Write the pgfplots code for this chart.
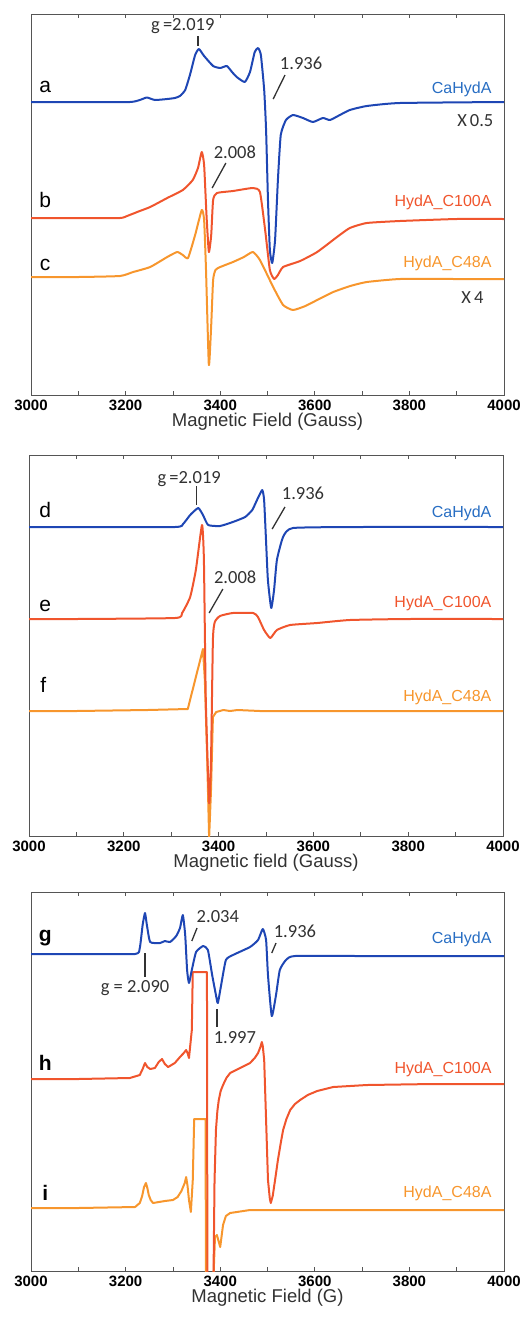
\documentclass[border=0pt]{standalone}
\usepackage{fontspec}
\setmainfont{Liberation Sans}
\newfontfamily\calib{Carlito}
\usepackage{pgfplots}
\pgfplotsset{compat=1.18}
\definecolor{cblue}{RGB}{30,70,180}
\definecolor{lblue}{RGB}{40,110,195}
\definecolor{cred}{RGB}{240,85,45}
\definecolor{cora}{RGB}{247,150,45}
\definecolor{axg}{RGB}{85,85,85}
\definecolor{anng}{RGB}{50,50,50}
\newcommand{\fs}[1]{\fontsize{#1}{#1}\selectfont}
\pgfplotsset{epr/.style={
 scale only axis, width=473pt, height=381pt,
 xmin=3000,xmax=4000,ymin=0,ymax=381,
 xtick={3000,3200,3400,3600,3800,4000},
 xticklabels={3000,3200,3400,3600,3800,4000},
 minor xtick={3100,3300,3500,3700,3900},
 ytick=\empty,
 major tick length=4pt, minor tick length=4pt,
 tick style={axg, line width=0.8pt},
 axis line style={axg, line width=1pt},
 xticklabel style={font=\bfseries\fs{15}, text=black, yshift=-1pt},
 xlabel style={font=\fs{18.5}, text=anng, yshift=4pt},
 every axis plot/.append style={line width=2pt, line join=round},
 clip=true,
},
sm/.style={smooth, tension=0.3}}
\tikzset{
lab/.style={font=\fs{21}, text=black},
blab/.style={font=\bfseries\fs{21}, text=black},
nm/.style={font=\fs{16}, anchor=east},
ann/.style={font=\calib\fs{18.5}, text=anng},
mk/.style={anng, line width=1.3pt},
}
\begin{document}
\begin{tikzpicture}
\useasboundingbox (0,0) rectangle (521pt,-1318pt);
% ---------------- Panel 1
\begin{axis}[epr, at={(31pt,-14pt)}, anchor=north west, xlabel={Magnetic Field (Gauss)}]
\addplot[cora, sm] coordinates {(3000,118)(3100,118)(3188,119)(3216,123)(3252,128)(3288,138)(3309,143)(3321,140)(3332,137)(3347,160)(3361,185)(3366,175)(3370,125)(3376,30)(3381,70)(3385,115)(3390,125)(3400,128)(3427,133)(3450,138)(3469,143)(3484,135)(3512,108)(3533,90)(3554,85)(3580,89)(3605,95)(3639,103)(3675,109)(3710,113)(3780,116)(3900,116)(4000,116)};
\addplot[cred, sm] coordinates {(3000,177)(3100,177)(3188,177)(3203,179)(3230,184)(3252,188)(3288,197)(3321,205)(3342,215)(3353,227)(3361,243)(3366,230)(3371,180)(3376,143)(3381,160)(3385,195)(3393,202)(3427,204)(3469,207)(3484,203)(3495,165)(3505,125)(3514,116)(3522,120)(3533,128)(3569,134)(3605,143)(3647,158)(3674,167)(3710,172)(3780,174)(3900,176)(4000,176)};
\addplot[cblue, sm] coordinates {(3000,293)(3100,293)(3209,293)(3230,295)(3245,297.5)(3262,295)(3288,296)(3304,297)(3315,299)(3326,305)(3336,320)(3347,340)(3355,346)(3366,339)(3385,329)(3400,327)(3414,329)(3425,323)(3435,318)(3452,313)(3463,323)(3473,343)(3480,347)(3486,340)(3493,305)(3497,265)(3501,195)(3505,145)(3510,132)(3516,155)(3522,215)(3528,260)(3539,275)(3554,280)(3575,277)(3596,273)(3617,277)(3632,275)(3653,280)(3674,285)(3710,289)(3780,292)(4000,293)};
\node[lab] at (axis cs:3030,308) {a};
\node[lab] at (axis cs:3030,195) {b};
\node[lab] at (axis cs:3030,130) {c};
\node[nm, text=lblue] at (axis cs:3981,306) {CaHydA};
\node[nm, text=cred] at (axis cs:3981,193) {HydA\_C100A};
\node[nm, text=cora] at (axis cs:3981,132) {HydA\_C48A};
\node[font=\calib\fs{18.5}, text=anng, anchor=east] at (axis cs:3985,274) {X\,0.5};
\node[font=\calib\fs{18.5}, text=anng, anchor=east] at (axis cs:3964,97) {X\,4};
\node[ann] at (axis cs:3321,369) {g\,=2.019};
\draw[mk] (axis cs:3353,359) -- (axis cs:3353,349);
\node[ann] at (axis cs:3571,332) {1.936};
\draw[mk] (axis cs:3512,296) -- (axis cs:3537,320);
\node[ann] at (axis cs:3431,243) {2.008};
\draw[mk] (axis cs:3383,207) -- (axis cs:3412,232);
\end{axis}
% ---------------- Panel 2
\begin{axis}[epr, width=474pt, at={(29pt,-455pt)}, anchor=north west, xlabel={Magnetic field (Gauss)}]
\addplot[cora] coordinates {(3000,125)(3100,125)(3250,126)(3335,127)(3367,187)(3371,156)(3376,76)(3380,-2)(3384,46)(3388,119)(3395,124)(3410,126)(3424,125)(3440,126)(3487,125)(3700,125)(4000,125)};
\addplot[cred, sm] coordinates {(3000,217)(3100,217)(3308,218)(3323,223)(3340,239)(3352,266)(3365,311)(3369,276)(3373,136)(3380,33)(3384,76)(3388,196)(3392,214)(3403,220)(3430,223)(3473,223)(3483,219)(3496,206)(3509,198)(3523,206)(3551,211)(3608,213)(3677,216)(3800,217)(4000,217)};
\addplot[cblue, sm] coordinates {(3000,309)(3100,309)(3308,309)(3325,312)(3340,321)(3357,328)(3367,321)(3378,311)(3403,310)(3430,314)(3456,319)(3471,326)(3481,336)(3492,346)(3496,336)(3500,296)(3504,256)(3511,228)(3517,246)(3523,276)(3536,299)(3557,308)(3700,309)(4000,309)};
\node[lab] at (axis cs:3034,326) {d};
\node[lab] at (axis cs:3034,230) {e};
\node[lab] at (axis cs:3030,151) {f};
\node[nm, text=lblue] at (axis cs:3983,323) {CaHydA};
\node[nm, text=cred] at (axis cs:3983,233) {HydA\_C100A};
\node[nm, text=cora] at (axis cs:3983,139) {HydA\_C48A};
\node[ann] at (axis cs:3338,357) {g\,=2.019};
\draw[mk] (axis cs:3354,350) -- (axis cs:3354,331);
\node[ann] at (axis cs:3578,343) {1.936};
\draw[mk] (axis cs:3513,307) -- (axis cs:3540,329);
\node[ann] at (axis cs:3435,259) {2.008};
\draw[mk] (axis cs:3380,223) -- (axis cs:3409,247);
\end{axis}
% ---------------- Panel 3
\begin{axis}[epr, height=379pt, ymax=379, at={(31pt,-892pt)}, anchor=north west, xlabel={Magnetic Field (G)}]
\addplot[cora] coordinates {(3000,63)(3100,63)(3220,64)(3230,68)(3235,75)(3239,84)(3243,88)(3246,83)(3249,76)(3253,71)(3258,68)(3283,70)(3300,71)(3310,74)(3318,80)(3325,88)(3328,94)(3331,85)(3334,71)(3338,59)(3342,91)(3345,152)(3369,152)(3370,-29)(3384,-29)(3389,34)(3393,36)(3400,24)(3406,46)(3412,55)(3421,58)(3463,61)(3700,61)(4000,61)};
\addplot[cred] coordinates {(3000,192)(3100,192)(3209,193)(3230,196)(3236,202)(3241,208)(3246,204)(3252,202)(3262,203)(3270,209)(3277,212)(3283,207)(3290,204)(3304,208)(3315,214)(3323,218)(3328,221)(3331,218)(3334,213)(3340,241)(3342,299)(3372,299)(3373,-29)(3385,-29)(3386,1)(3388,90)(3391,141)(3394,160)(3397,171)(3401,180)(3406,186)(3413,193)(3421,198)(3442,203)(3463,208)(3473,213)(3480,218)(3485,224)(3488,229)(3490,225)(3493,211)(3497,151)(3501,91)(3505,72)(3507,68)(3511,75)(3516,91)(3522,111)(3528,128)(3533,141)(3540,152)(3548,161)(3558,167)(3569,171)(3585,176)(3605,180)(3639,184)(3710,186)(3850,187)(4000,187)};
\addplot[cblue, sm] coordinates {(3000,317)(3100,317)(3220,317)(3230,323)(3236,346)(3241,358)(3245,346)(3252,329)(3273,328)(3283,330)(3294,329)(3307,335)(3315,343)(3321,356)(3326,336)(3330,301)(3334,288)(3340,301)(3349,319)(3364,325)(3374,321)(3383,296)(3391,276)(3395,268)(3402,286)(3412,311)(3427,316)(3463,324)(3480,331)(3490,342)(3497,331)(3501,296)(3509,255)(3518,276)(3526,301)(3539,311)(3558,315)(3700,315)(4000,315)};
\node[blab] at (axis cs:3030,333) {g};
\node[blab] at (axis cs:3030,208) {h};
\node[blab] at (axis cs:3030,78) {i};
\node[nm, text=lblue] at (axis cs:3981,332) {CaHydA};
\node[nm, text=cred] at (axis cs:3981,202) {HydA\_C100A};
\node[nm, text=cora] at (axis cs:3981,78) {HydA\_C48A};
\node[ann] at (axis cs:3395,354) {2.034};
\draw[mk] (axis cs:3340,330) -- (axis cs:3351,343);
\node[ann] at (axis cs:3558,340) {1.936};
\draw[mk] (axis cs:3509,318) -- (axis cs:3518,328);
\node[ann] at (axis cs:3220,283) {g = 2.090};
\draw[mk] (axis cs:3241,318) -- (axis cs:3241,294);
\node[ann] at (axis cs:3431,233) {1.997};
\draw[mk] (axis cs:3393,262) -- (axis cs:3393,244);
\end{axis}
\end{tikzpicture}
\end{document}
